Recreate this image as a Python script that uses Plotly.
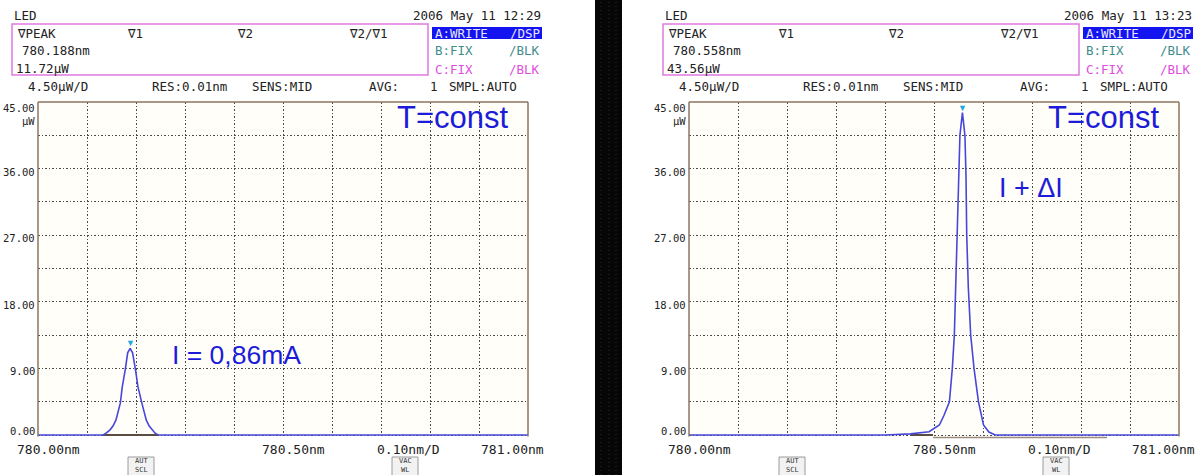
import plotly.graph_objects as go

W, H = 1199, 475

# ---- measured data -------------------------------------------------------
# Screen 1: I = 0,86 mA (trace A, wavelength in nm, power in uW)
wl_1 = [780.00, 780.120, 780.133, 780.139, 780.147, 780.153, 780.159, 780.168,
        780.172, 780.178, 780.183, 780.188, 780.193, 780.199, 780.204, 780.212,
        780.221, 780.227, 780.233, 780.239, 780.245, 780.26, 781.00]
pw_1 = [0, 0, 0.0, 0.25, 0.7, 1.2, 2.0, 4.3,
        6.5, 8.8, 11.1, 11.72, 11.1, 8.8, 6.5, 4.3,
        2.0, 1.2, 0.7, 0.25, 0.0, 0, 0]

# Screen 2: I + dI
wl_2 = [780.00, 780.40, 780.452, 780.490, 780.511, 780.520, 780.5315, 780.5374,
        780.5415, 780.5443, 780.5484, 780.5505, 780.5529, 780.558, 780.5631,
        780.5653, 780.5668, 780.570, 780.5749, 780.5817, 780.5907, 780.601,
        780.612, 780.625, 781.00]
pw_2 = [0, 0, 0.15, 0.45, 1.35, 2.6, 4.5, 9.0,
        13.5, 20.0, 27.0, 35.0, 40.5, 43.56, 40.5,
        35.0, 27.0, 20.0, 13.5, 9.0, 4.5, 1.35,
        0.4, 0, 0]

peak_wl = [780.188, 780.558]
peak_pw = [11.72, 43.56]
timestamps = ["2006 May 11 12:29", "2006 May 11 13:23"]
big_labels = ["I = 0,86mA", "I + ΔI"]

y_ticks = [0, 9, 18, 27, 36, 45]
y_tick_text = ["0.00", "9.00", "18.00", "27.00", "36.00", "45.00"]
x_tick_text = ["780.00nm", "780.50nm", "0.10nm/D", "781.00nm"]
x_tick_pos = [780.00, 780.50, 780.75, 781.00]

# ---- screen geometry (pixels) -------------------------------------------
PANEL_DX = [0, 651]
PLOT_L, PLOT_R = 38, 528
PLOT_T, PLOT_B = 102, 435
Y_MIN, Y_MAX = -0.2, 45.0
PPU = (PLOT_B - PLOT_T) / 45.0
PLOT_B_EXT = PLOT_B - Y_MIN * PPU

MONO = "DejaVu Sans Mono"
SANS = "Liberation Sans, Arial"
TRACE_BLUE = "#4747dc"
TEXT_BLUE = "#1c1cd8"
FRAME = "#8c7560"
GRID = "#4a4a4a"
GRID_DASH = "1.5px,2px"


def px(x, y):
    return x / W, 1 - y / H


fig = go.Figure()
annotations = []
shapes = []

series = [(wl_1, pw_1), (wl_2, pw_2)]
dark_seg = [[780.132, 780.246], [780.452, 780.498]]

for i, dx in enumerate(PANEL_DX):
    xa = "x" if i == 0 else "x2"
    ya = "y" if i == 0 else "y2"
    xkey = "xaxis" if i == 0 else "xaxis2"
    ykey = "yaxis" if i == 0 else "yaxis2"

    fig.add_trace(go.Scatter(x=dark_seg[i], y=[0, 0], mode="lines",
                             line=dict(color="#5a4c40", width=2),
                             xaxis=xa, yaxis=ya, hoverinfo="skip",
                             showlegend=False))
    wl, pw = series[i]
    fig.add_trace(go.Scatter(x=wl, y=pw, mode="lines",
                             line=dict(color=TRACE_BLUE, width=1.6),
                             xaxis=xa, yaxis=ya, showlegend=False))

    x0, _ = px(dx + PLOT_L, 0)
    x1, _ = px(dx + PLOT_R, 0)
    _, y0 = px(0, PLOT_B_EXT)
    _, y1 = px(0, PLOT_T)
    fig.layout[xkey] = dict(domain=[x0, x1], range=[780.0, 781.0],
                            anchor=ya, tick0=780.0, dtick=0.1,
                            showticklabels=False, ticks="", zeroline=False,
                            showgrid=True, gridcolor=GRID,
                            griddash=GRID_DASH, gridwidth=1.2, showline=False)
    fig.layout[ykey] = dict(domain=[y0, y1], range=[Y_MIN, Y_MAX],
                            anchor=xa, tick0=0, dtick=4.5,
                            showticklabels=False, ticks="", zeroline=False,
                            showgrid=True, gridcolor=GRID,
                            griddash=GRID_DASH, gridwidth=1.2, showline=False)

    # frame: left, right, top
    for (ax0, ay0, ax1, ay1) in [(0, 0, 0, 1), (1, 0, 1, 1), (0, 1, 1, 1)]:
        shapes.append(dict(type="line", xref=f"{xa} domain", yref=f"{ya} domain",
                           x0=ax0, y0=ay0, x1=ax1, y1=ay1,
                           line=dict(color=FRAME, width=1.5)))

    # header texts
    def txt(x, y, s, color="#222222", size=12.5, anchor="left", family=MONO):
        fx, fy = px(dx + x, y)
        annotations.append(dict(x=fx, y=fy, xref="paper", yref="paper", text=s,
                                showarrow=False, xanchor=anchor,
                                yanchor="middle",
                                font=dict(family=family, size=size,
                                          color=color)))

    txt(12, 16, "LED")
    txt(543, 16, timestamps[i], anchor="right")
    # marker box
    bx0, by0 = px(dx + 12, 24)
    bx1, by1 = px(dx + 428, 75)
    shapes.append(dict(type="rect", xref="paper", yref="paper",
                       x0=bx0, y0=by0, x1=bx1, y1=by1,
                       line=dict(color="#e07ae0", width=1.5)))
    txt(15, 33, "∇PEAK")
    txt(125, 33, "∇1")
    txt(235, 33, "∇2")
    txt(347, 33, "∇2/∇1")
    txt(20, 51, f"{peak_wl[i]:.3f}nm")
    txt(14, 68, f"{peak_pw[i]:.2f}µW")

    # trace status
    hx0, hy0 = px(dx + 432, 27)
    hx1, hy1 = px(dx + 542, 39)
    shapes.append(dict(type="rect", xref="paper", yref="paper",
                       x0=hx0, y0=hy0, x1=hx1, y1=hy1,
                       fillcolor="#1414f0", line=dict(width=0)))
    txt(433, 33, "A:WRITE", color="#e6e6ff")
    txt(542, 33, "/DSP", color="#e6e6ff", anchor="right")
    txt(433, 51, "B:FIX", color="#3f8c8c")
    txt(542, 51, "/BLK", color="#3f8c8c", anchor="right")
    txt(433, 69, "C:FIX", color="#e04ce0")
    txt(542, 69, "/BLK", color="#e04ce0", anchor="right")

    # settings row
    txt(26, 86, "4.50µW/D")
    txt(150, 86, "RES:0.01nm")
    txt(250, 86, "SENS:MID")
    txt(367, 86, "AVG:")
    txt(428, 86, "1")
    txt(447, 86, "SMPL:AUTO")

    # y labels
    fxl, _ = px(dx + 37, 0)
    for v, s in zip(y_ticks, y_tick_text):
        shift = -3
        if v == 45:
            shift = -6
        elif v == 0:
            shift = 4
        annotations.append(dict(x=fxl, y=v, xref="paper", yref=ya, text=s,
                                showarrow=False, xanchor="right",
                                yanchor="middle", yshift=shift,
                                font=dict(family=MONO, size=10.5,
                                          color="#222222")))
    annotations.append(dict(x=fxl, y=45, xref="paper", yref=ya, text="µW",
                            showarrow=False, xanchor="right", yanchor="middle",
                            yshift=-19,
                            font=dict(family=MONO, size=10.5, color="#222222")))

    # x labels
    _, fyx = px(0, 449)
    xshift = {780.00: 10, 780.50: 10, 780.75: 3, 781.00: -16}
    for v, s in zip(x_tick_pos, x_tick_text):
        annotations.append(dict(x=v, y=fyx, xref=xa, yref="paper", text=s,
                                showarrow=False, xanchor="center",
                                yanchor="middle", xshift=xshift[v],
                                font=dict(family=MONO, size=13,
                                          color="#222222")))

    # soft-key boxes
    for (kx0, kx1, l1, l2) in [(128, 154, "AUT", "SCL"), (392, 418, "VAC", "WL")]:
        sx0, sy0 = px(dx + kx0, 457)
        sx1, sy1 = px(dx + kx1, 476)
        shapes.append(dict(type="rect", xref="paper", yref="paper",
                           x0=sx0, y0=sy0, x1=sx1, y1=sy1,
                           fillcolor="#f2f2f2", line=dict(color="#9a9a9a", width=1)))
        cx, cy = px(dx + (kx0 + kx1) / 2, 465)
        annotations.append(dict(x=cx, y=cy, xref="paper", yref="paper",
                                text=f"{l1}<br>{l2}", showarrow=False,
                                xanchor="center", yanchor="middle",
                                font=dict(family=MONO, size=7, color="#333333")))

    # peak marker
    annotations.append(dict(x=peak_wl[i], y=peak_pw[i], xref=xa, yref=ya,
                            text="▼", showarrow=False, xanchor="center",
                            yanchor="bottom", yshift=-3,
                            font=dict(size=9, color="#1ea8e0")))

    # big blue labels
    tx, ty = px(dx + 395, 117)
    annotations.append(dict(x=tx, y=ty, xref="paper", yref="paper",
                            text="T=const", showarrow=False, xanchor="left",
                            yanchor="middle",
                            font=dict(family=SANS, size=31, color=TEXT_BLUE)))

# labels next to the peaks
lx, ly = px(170, 355)
annotations.append(dict(x=lx, y=ly, xref="paper", yref="paper",
                        text=big_labels[0], showarrow=False, xanchor="left",
                        yanchor="middle",
                        font=dict(family=SANS, size=26.5, color=TEXT_BLUE)))
lx, ly = px(997, 188)
annotations.append(dict(x=lx, y=ly, xref="paper", yref="paper",
                        text=big_labels[1], showarrow=False, xanchor="left",
                        yanchor="middle",
                        font=dict(family=SANS, size=27, color=TEXT_BLUE)))

# gray line under the second trace axis
gx0, gy = px(933, 437.5)
gx1, _ = px(1107, 437.5)
shapes.append(dict(type="line", xref="paper", yref="paper",
                   x0=gx0, y0=gy, x1=gx1, y1=gy,
                   line=dict(color="#9c8c7c", width=1.5)))

# black separator between the two screens, with its faint raster
sx0, _ = px(595, 0)
sx1, _ = px(622, 0)
shapes.append(dict(type="rect", xref="paper", yref="paper",
                   x0=sx0, y0=0, x1=sx1, y1=1,
                   fillcolor="#060606", line=dict(width=0)))
for xr in (601, 609, 616):
    fx, _ = px(xr, 0)
    shapes.append(dict(type="line", xref="paper", yref="paper",
                       x0=fx, y0=0, x1=fx, y1=1,
                       line=dict(color="#2c2c2c", width=1, dash="1px,3px")))

fig.update_layout(width=W, height=H, margin=dict(l=0, r=0, t=0, b=0),
                  paper_bgcolor="white", plot_bgcolor="#fffef9",
                  annotations=annotations, shapes=shapes, showlegend=False)

fig.write_html("out.html")
